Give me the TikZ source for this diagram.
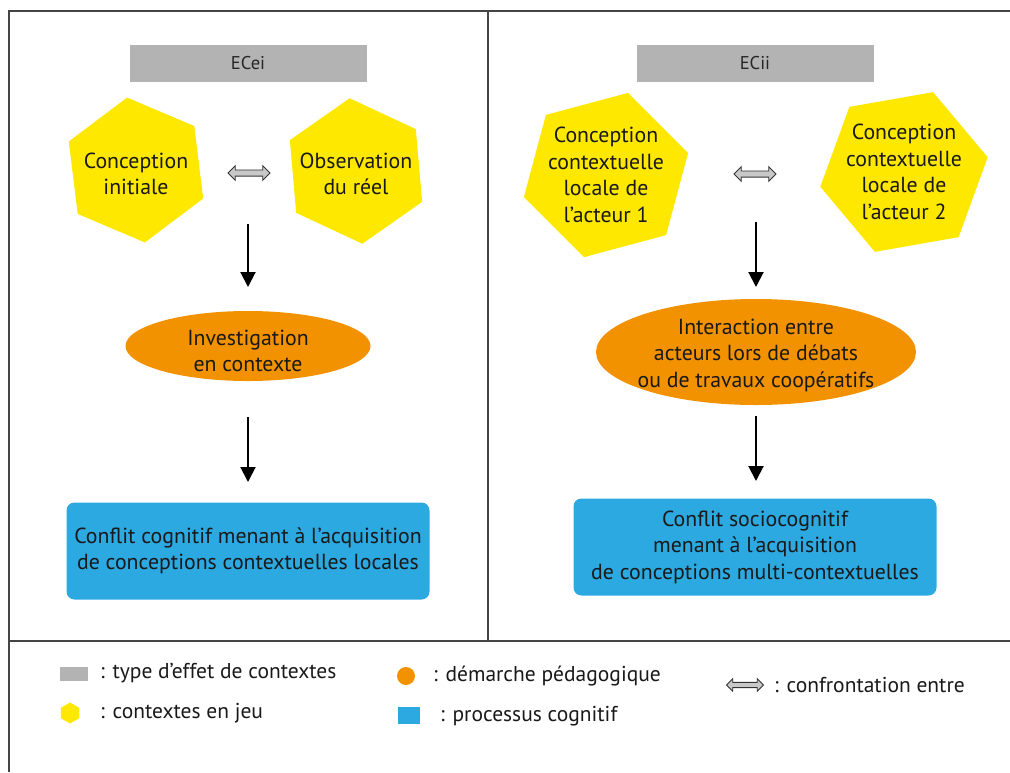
\documentclass[tikz,border=0pt]{standalone}
\usepackage{fontspec}
\setmainfont{PT Sans}
\usetikzlibrary{shapes.geometric,shapes.arrows,arrows.meta}
\definecolor{hexyel}{HTML}{FFE800}
\definecolor{ovor}{HTML}{F39200}
\definecolor{boxblue}{HTML}{2CA9E1}
\definecolor{titgray}{HTML}{B3B3B3}
\definecolor{framec}{HTML}{454545}
\definecolor{dblfill}{HTML}{C8C8C8}
\begin{document}
\begin{tikzpicture}[x=1pt,y=-1pt,
  txt/.style={font=\fontsize{21.8}{26.5}\selectfont, align=center, text=black!90},
  hexa/.style={regular polygon, regular polygon sides=6, fill=hexyel, inner sep=0pt},
  titlebox/.style={fill=titgray, minimum width=237pt, minimum height=37pt, inner sep=0pt, font=\fontsize{18.5}{22}\selectfont, text=black!85},
  ovalbox/.style={ellipse, fill=ovor, inner sep=0pt},
  procbox/.style={fill=boxblue, rounded corners=8pt, minimum width=363pt, minimum height=97pt, inner sep=0pt, txt},
  dbl/.style={double arrow, fill=dblfill, draw=black!80, line width=0.9pt, minimum height=42pt, inner sep=2.6pt, double arrow head extend=4.2pt},
  flow/.style={-{Triangle[width=15pt,length=15pt]}, line width=2pt, black},
  framel/.style={draw=framec, line width=1.6pt},
  legtxt/.style={font=\fontsize{21.5}{24}\selectfont, anchor=west, inner sep=0pt, text=black!90}
]
\useasboundingbox (0,0) rectangle (1010,772);
% frame
\draw[framel] (1010,11) -- (9,11) -- (9,772);
\draw[framel] (9,641) -- (1010,641);
\draw[framel] (488,11) -- (488,641);

% ===== left panel =====
\node[titlebox] (t1) at (248,63) {ECei};
\node[hexa, minimum size=146pt, shape border rotate=37,
  label={[txt, yshift=-4pt]center:{Conception\\initiale}}] (h1) at (136,170) {};
\node[hexa, minimum size=146pt, shape border rotate=35,
  label={[txt, yshift=-3pt]center:{Observation\\du réel}}] (h2) at (356,171) {};
\node[dbl] (d1) at (249,173) {};
\coordinate (a1s) at (248,224);
\coordinate (a1e) at (248,287);
\draw[flow] (a1s) -- (a1e);
\node[ovalbox, minimum width=245pt, minimum height=70pt,
  label={[txt, yshift=-5pt]center:{Investigation\\en contexte}}] (e1) at (248,346) {};
\coordinate (a2s) at (248,417);
\coordinate (a2e) at (248,482);
\draw[flow] (a2s) -- (a2e);
\node[procbox] (b1) at (248,551) {Conflit cognitif menant à l’acquisition\\de conceptions contextuelles locales};

% ===== right panel =====
\node[titlebox] (t2) at (755,63) {ECii};
\node[hexa, minimum size=170pt, shape border rotate=15,
  label={[txt]center:{Conception\\contextuelle\\locale de\\l’acteur 1}}] (h3) at (606,175) {};
\node[hexa, minimum size=170pt, shape border rotate=10,
  label={[txt]center:{Conception\\contextuelle\\locale de\\l’acteur 2}}] (h4) at (904,172) {};
\node[dbl] (d2) at (755,174) {};
\coordinate (a3s) at (756,222);
\coordinate (a3e) at (756,287);
\draw[flow] (a3s) -- (a3e);
\node[ovalbox, minimum width=320pt, minimum height=106pt,
  label={[txt, yshift=-3pt]center:{Interaction entre\\acteurs lors de débats\\ou de travaux coopératifs}}] (e2) at (756,352) {};
\coordinate (a4s) at (756,416);
\coordinate (a4e) at (756,481);
\draw[flow] (a4s) -- (a4e);
\node[procbox] (b2) at (755,547) {Conflit sociocognitif\\menant à l’acquisition\\de conceptions multi-contextuelles};

% ===== legend =====
\node[fill=titgray, minimum width=28pt, minimum height=14pt, inner sep=0pt] (lg1) at (74,674) {};
\node[legtxt] (lt1) at (100,673) {: type d’effet de contextes};
\node[regular polygon, regular polygon sides=6, shape border rotate=30, fill=hexyel, minimum size=21pt, inner sep=0pt] (lg2) at (70,713) {};
\node[legtxt] (lt2) at (100,713) {: contextes en jeu};
\node[circle, fill=ovor, minimum size=18pt, inner sep=0pt] (lg3) at (406,676) {};
\node[legtxt] (lt3) at (433,676) {: démarche pédagogique};
\node[fill=boxblue, minimum width=22pt, minimum height=17pt, inner sep=0pt] (lg4) at (409,715) {};
\node[legtxt] (lt4) at (440,716) {: processus cognitif};
\node[dbl, minimum height=37pt, inner sep=2.2pt, double arrow head extend=3.6pt] (lg5) at (745,685) {};
\node[legtxt] (lt5) at (774,685) {: confrontation entre};
\end{tikzpicture}
\end{document}
